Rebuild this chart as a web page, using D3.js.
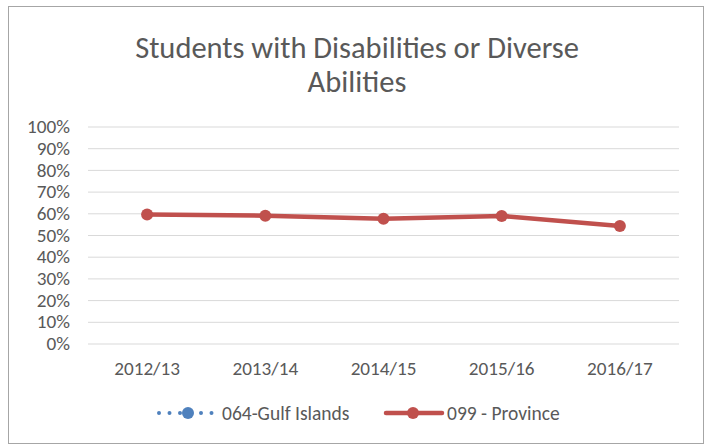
<!DOCTYPE html>
<html><head><meta charset="utf-8">
<script src="https://cdn.jsdelivr.net/npm/d3@7"></script>
<style>body{margin:0;background:#fff}svg{display:block}text{font-family:Carlito,Calibri,"Open Sans",sans-serif}</style>
</head><body><svg id="c" width="717" height="445"></svg>
<script>
const categories = ["2012/13","2013/14","2014/15","2015/16","2016/17"];
const gulfIslands = [null,null,null,null,null];
const province = [59.4, 58.9, 57.5, 58.8, 54.1];
const yTicks = [0,10,20,30,40,50,60,70,80,90,100];
const titleLines = ["Students with Disabilities or Diverse","Abilities"];
const seriesNames = ["064-Gulf Islands","099 - Province"];

const svg = d3.select("#c");
const txt = "#595959";
const ff = "Carlito,Calibri,'Open Sans',sans-serif";
svg.append("rect").attr("x",8.5).attr("y",6.5).attr("width",695).attr("height",437)
  .attr("fill","#fff").attr("stroke","#a6a6a6").attr("stroke-width",1);

const x = d3.scaleBand().domain(categories).range([88,679]);
const y = d3.scaleLinear().domain([0,100]).range([343.5,126.5]);

const title = svg.append("text").attr("text-anchor","middle").attr("fill",txt).attr("font-size",30.5);
titleLines.forEach((t,i)=>title.append("tspan").attr("x",357).attr("y",57.5+i*34).text(t));

const yAxis = d3.axisLeft(y).tickValues(yTicks).tickFormat(d=>d+"%").tickSize(-(679-88)).tickPadding(18);
const gy = svg.append("g").attr("transform","translate(88,0)").call(yAxis);
gy.select(".domain").remove();
gy.selectAll(".tick line").attr("stroke","#d9d9d9").attr("stroke-width",1);
gy.selectAll(".tick text").attr("fill",txt).attr("font-size",19.2).attr("font-family",ff);

const xAxis = d3.axisBottom(x).tickSize(0).tickPadding(18);
const gx = svg.append("g").attr("transform","translate(0,343.5)").call(xAxis);
gx.select(".domain").remove();
gx.selectAll(".tick text").attr("fill",txt).attr("font-size",19.2).attr("font-family",ff);

const cx = d => x(d)+x.bandwidth()/2;
const red = "#c0504d", blue = "#4f81bd";
const data = categories.map((c,i)=>({c,v:province[i]}));
svg.append("path").datum(data).attr("fill","none").attr("stroke",red).attr("stroke-width",4.5)
  .attr("stroke-linejoin","round").attr("d",d3.line().x(d=>cx(d.c)).y(d=>y(d.v)));
svg.selectAll("circle.p").data(data).join("circle").attr("class","p")
  .attr("cx",d=>cx(d.c)).attr("cy",d=>y(d.v)).attr("r",6).attr("fill",red);

const gdata = categories.map((c,i)=>({c,v:gulfIslands[i]})).filter(d=>d.v!=null);
svg.selectAll("circle.g").data(gdata).join("circle").attr("class","g")
  .attr("cx",d=>cx(d.c)).attr("cy",d=>y(d.v)).attr("r",6).attr("fill",blue);

// legend
const ly = 413;
const lg = svg.append("g");
lg.append("line").attr("x1",159).attr("x2",214).attr("y1",ly).attr("y2",ly)
  .attr("stroke",blue).attr("stroke-width",4).attr("stroke-linecap","round").attr("stroke-dasharray","0 10.5");
lg.append("circle").attr("cx",188).attr("cy",ly).attr("r",6).attr("fill",blue);
lg.append("text").attr("x",222).attr("y",ly+6.5).attr("fill",txt).attr("font-size",19.5).text(seriesNames[0]);
lg.append("line").attr("x1",386).attr("x2",442).attr("y1",ly).attr("y2",ly)
  .attr("stroke",red).attr("stroke-width",4.5).attr("stroke-linecap","round");
lg.append("circle").attr("cx",413).attr("cy",ly).attr("r",6).attr("fill",red);
lg.append("text").attr("x",447).attr("y",ly+6.5).attr("fill",txt).attr("font-size",19.5).text(seriesNames[1]);
</script></body></html>
